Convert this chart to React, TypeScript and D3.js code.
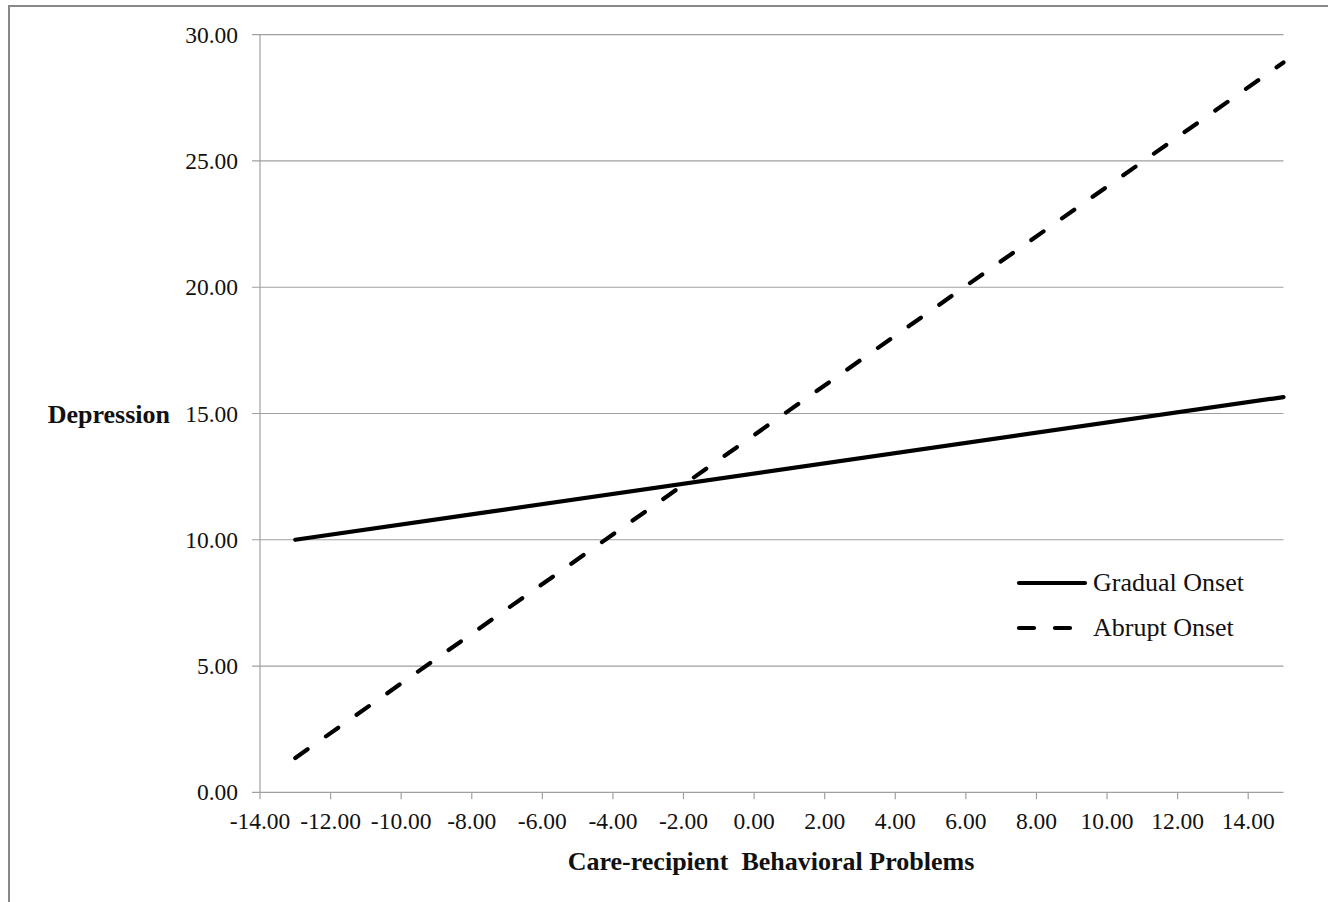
import React from "react";
import * as d3 from "d3";

const xTicks = [-14, -12, -10, -8, -6, -4, -2, 0, 2, 4, 6, 8, 10, 12, 14];
const yTicks = [0, 5, 10, 15, 20, 25, 30];
const seriesNames = ["Gradual Onset", "Abrupt Onset"];
const xValues = [-13, 15];
const gradualValues = [10.0, 15.65];
const abruptValues = [1.36, 28.9];

const W = 1328;
const H = 902;
const FONT = "'Liberation Serif', 'Times New Roman', serif";

export default function App() {
  const x = d3.scaleLinear().domain([-14, 15]).range([260, 1283.5]);
  const y = d3.scaleLinear().domain([0, 30]).range([792.3, 34.7]);
  const line = d3
    .line<[number, number]>()
    .x((d) => x(d[0]))
    .y((d) => y(d[1]));
  const gradual = xValues.map((v, i) => [v, gradualValues[i]] as [number, number]);
  const abrupt = xValues.map((v, i) => [v, abruptValues[i]] as [number, number]);
  const grid = "#a0a0a0";

  return (
    <svg
      width={W}
      height={H}
      style={{ position: "absolute", left: 0, top: 0, background: "#fff" }}
    >
      <rect x={9} y={6} width={1400} height={1000} fill="#fff" stroke="#888" strokeWidth={2} />
      {/* gridlines */}
      {yTicks.map((t) => (
        <line key={"g" + t} x1={252} x2={x(15)} y1={y(t)} y2={y(t)} stroke={grid} strokeWidth={1.2} />
      ))}
      {/* y axis */}
      <line x1={x(-14)} x2={x(-14)} y1={y(30)} y2={y(0)} stroke={grid} strokeWidth={1.2} />
      {yTicks.map((t) => (
        <text
          key={"yl" + t}
          x={238}
          y={y(t) + 8}
          textAnchor="end"
          fontFamily={FONT}
          fontSize={23.5}
          fill="#111"
        >
          {t.toFixed(2)}
        </text>
      ))}
      {/* x axis ticks */}
      {xTicks.map((t) => (
        <g key={"xt" + t}>
          <line x1={x(t)} x2={x(t)} y1={y(0)} y2={y(0) + 7} stroke={grid} strokeWidth={1.2} />
          <text
            x={x(t)}
            y={829}
            textAnchor="middle"
            fontFamily={FONT}
            fontSize={23.5}
            fill="#111"
          >
            {t.toFixed(2)}
          </text>
        </g>
      ))}
      {/* axis titles */}
      <text x={170} y={423} textAnchor="end" fontFamily={FONT} fontWeight="bold" fontSize={26} fill="#111">
        Depression
      </text>
      <text
        x={771}
        y={870}
        textAnchor="middle"
        fontFamily={FONT}
        fontWeight="bold"
        fontSize={26}
        fill="#111"
        style={{ whiteSpace: "pre" }}
      >
        {"Care-recipient  Behavioral Problems"}
      </text>
      {/* series */}
      <path d={line(gradual) || ""} fill="none" stroke="#000" strokeWidth={4.2} strokeLinecap="round" />
      <path
        d={line(abrupt) || ""}
        fill="none"
        stroke="#000"
        strokeWidth={4.2}
        strokeLinecap="round"
        strokeDasharray="15 22.5"
      />
      {/* legend */}
      <line x1={1019} x2={1085} y1={583} y2={583} stroke="#000" strokeWidth={4.2} strokeLinecap="round" />
      <text x={1093} y={591} fontFamily={FONT} fontSize={26} fill="#111">
        {seriesNames[0]}
      </text>
      <line
        x1={1019}
        x2={1071}
        y1={628}
        y2={628}
        stroke="#000"
        strokeWidth={4.2}
        strokeLinecap="round"
        strokeDasharray="15 21"
      />
      <text x={1093} y={636} fontFamily={FONT} fontSize={26} fill="#111">
        {seriesNames[1]}
      </text>
    </svg>
  );
}
